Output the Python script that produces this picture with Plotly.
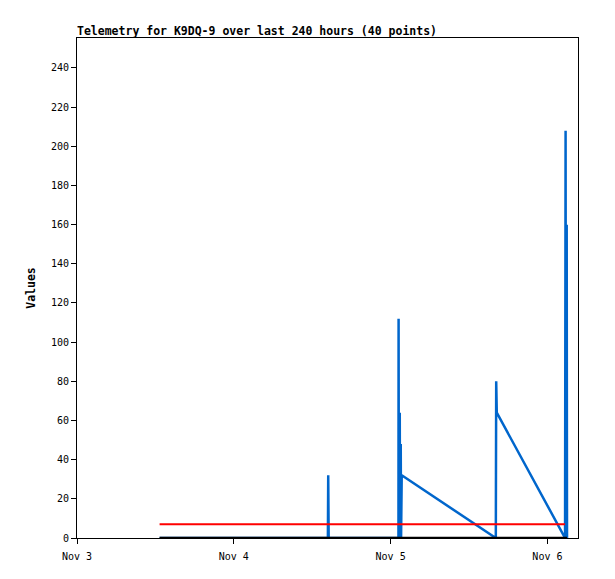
import plotly.graph_objects as go
import datetime as dt

# Blue telemetry series (hours after Nov 3 00:00, value)
blue_hours = [12.64, 20.0, 28.0, 38.40, 38.45, 38.52, 49.20, 49.22, 49.26, 49.40,
              49.44, 49.55, 49.60, 49.70, 64.10, 64.16, 64.25, 74.70, 74.78, 74.84,
              74.90, 74.95, 75.00]
blue_values = [0, 0, 0, 0, 32, 0, 0, 112, 0, 64,
               0, 48, 0, 32, 0, 80, 64, 0, 208, 0,
               0, 160, 0]

# Red constant series
red_hours = [12.64, 30.0, 50.0, 74.70]
red_values = [7, 7, 7, 7]

# Black zero series
black_hours = [12.64, 30.0, 50.0, 75.00]
black_values = [0, 0, 0, 0]

y_ticks = list(range(0, 241, 20))
title_text = "Telemetry for K9DQ-9 over last 240 hours (40 points)"

base = dt.datetime(2023, 11, 3)
def to_t(hs):
    return [base + dt.timedelta(hours=h) for h in hs]

fig = go.Figure()
fig.add_trace(go.Scatter(x=to_t(blue_hours), y=blue_values, mode="lines",
                         line=dict(color="#0066CC", width=2.5), showlegend=False))
fig.add_trace(go.Scatter(x=to_t(red_hours), y=red_values, mode="lines",
                         line=dict(color="#FF0000", width=2), showlegend=False))
fig.add_trace(go.Scatter(x=to_t(black_hours), y=black_values, mode="lines",
                         line=dict(color="#000000", width=2.5), showlegend=False))

fig.update_layout(
    width=615, height=579,
    margin=dict(l=69, r=45, t=30, b=49),
    paper_bgcolor="white", plot_bgcolor="white",
    title=dict(text=title_text, x=69/615, xanchor="left", xref="container",
               y=1 - 23/579, yanchor="middle", yref="container",
               font=dict(family="DejaVu Sans Mono", size=11.5, color="black", weight="bold")),
    font=dict(family="DejaVu Sans Mono", size=10, color="black"),
    xaxis=dict(range=[base, base + dt.timedelta(hours=76.68)],
               tickformat="%b %-d", dtick=86400000, tick0=base,
               showgrid=False, zeroline=False,
               showline=True, linecolor="black", linewidth=1, mirror=True,
               ticks="outside", ticklen=5, tickcolor="black", ticklabelstandoff=4),
    yaxis=dict(range=[0, 255.3], tickvals=y_ticks,
               showgrid=False, zeroline=False,
               showline=True, linecolor="black", linewidth=1, mirror=True,
               ticks="outside", ticklen=5, tickcolor="black",
               title=dict(text="Values", standoff=12,
                          font=dict(family="DejaVu Sans Mono", size=11.5, weight="bold"))),
)

fig.write_html("out.html")
